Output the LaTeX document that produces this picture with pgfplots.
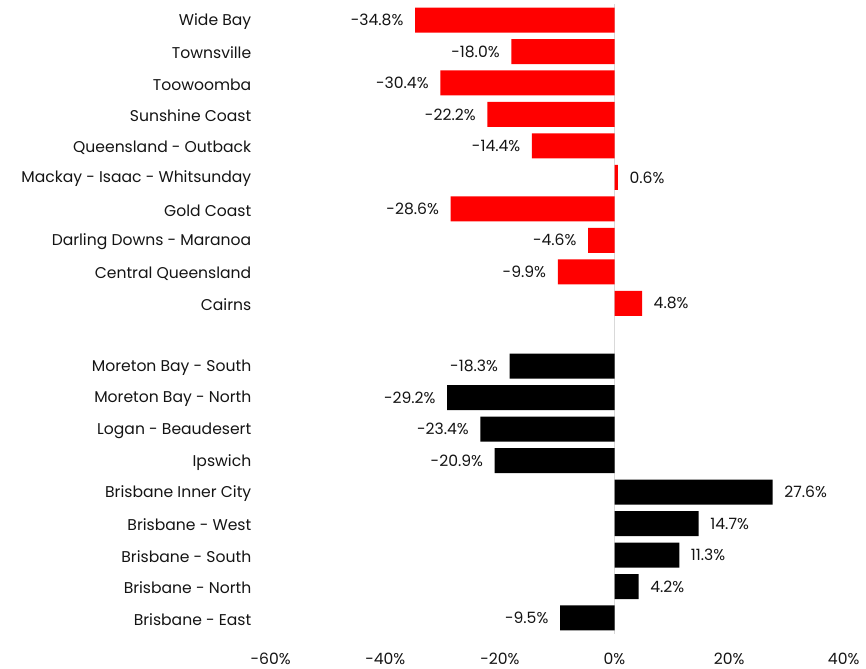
\documentclass[border=0pt]{standalone}
\usepackage{fontspec}
\setmainfont{Poppins}
\usepackage{pgfplots}
\pgfplotsset{compat=1.18}
\definecolor{barred}{RGB}{255,0,0}
\definecolor{zeroline}{RGB}{217,217,217}
\definecolor{txt}{RGB}{20,20,20}
\begin{document}
\begin{tikzpicture}[font=\fontsize{15.6bp}{18bp}\selectfont]
\begin{axis}[
  scale only axis,
  width=573bp, height=629.4bp,
  xmin=-60, xmax=40,
  ymin=-0.5, ymax=19.5,
  y dir=reverse,
  axis line style={draw=none},
  tick style={draw=none},
  /pgf/number format/assume math mode=true,
  xtick={-60,-40,-20,0,20,40},
  xticklabel={\pgfmathprintnumber{\tick}\%},
  xticklabel style={inner sep=0pt, anchor=north, yshift=-19bp, text=txt},
  ytick={0,1,2,3,4,5,6,7,8,9,11,12,13,14,15,16,17,18,19},
  yticklabels={Wide Bay,Townsville,Toowoomba,Sunshine Coast,Queensland - Outback,Mackay - Isaac - Whitsunday,Gold Coast,Darling Downs - Maranoa,Central Queensland,Cairns,Moreton Bay - South,Moreton Bay - North,Logan - Beaudesert,Ipswich,Brisbane Inner City,Brisbane - West,Brisbane - South,Brisbane - North,Brisbane - East},
  yticklabel style={inner sep=0pt, anchor=east, xshift=-15bp, yshift=-1.5bp, text=txt},
  extra x ticks={0},
  extra x tick labels={},
  extra x tick style={grid=major, major grid style={draw=zeroline, line width=1.6bp}},
  xbar, bar shift=0pt, bar width=25bp,
  point meta=x,
  nodes near coords={\pgfmathprintnumber[fixed,fixed zerofill,precision=1,assume math mode=true]{\pgfplotspointmeta}\%},
  every node near coord/.append style={inner xsep=11.5bp, inner ysep=0pt, text=txt, font=\fontsize{15.6bp}{18bp}\selectfont},
]
\addplot[fill=barred, draw=none] coordinates {
  (-34.8,0) (-18.0,1) (-30.4,2) (-22.2,3) (-14.4,4) (0.6,5) (-28.6,6) (-4.6,7) (-9.9,8) (4.8,9)
};
\addplot[fill=black, draw=none] coordinates {
  (-18.3,11) (-29.2,12) (-23.4,13) (-20.9,14) (27.6,15) (14.7,16) (11.3,17) (4.2,18) (-9.5,19)
};
\end{axis}
\pgfresetboundingbox
\path[use as bounding box] (-270.7bp,-35.3bp) rectangle (595.3bp,633.7bp);
\end{tikzpicture}
\end{document}
